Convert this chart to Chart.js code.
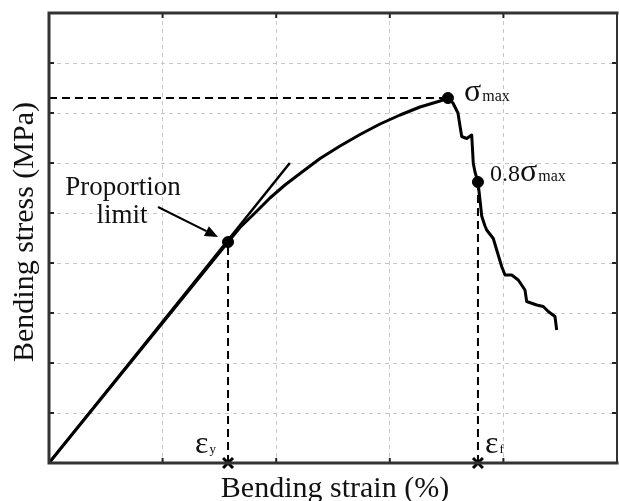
<!DOCTYPE html>
<html>
<head>
<meta charset="utf-8">
<script src="https://cdn.jsdelivr.net/npm/chart.js@4/dist/chart.umd.min.js"></script>
<style>
  html, body { margin: 0; padding: 0; background: #fff; }
  #wrap { width: 619px; height: 501px; }
</style>
</head>
<body>
<div id="wrap"><canvas id="c" width="619" height="501"></canvas></div>
<script>
// ---- data (strain units = grid divisions, stress units = grid divisions) ----
const strain = [0, 1.576, 1.681, 1.813, 1.945, 2.077, 2.210, 2.386, 2.562, 2.738, 2.914, 3.090, 3.266, 3.442, 3.512,
  3.556, 3.600, 3.618, 3.633, 3.677, 3.721, 3.735, 3.750, 3.776, 3.794, 3.809, 3.838, 3.853, 3.911, 3.941,
  3.985, 4.014, 4.073, 4.131, 4.190, 4.205, 4.293, 4.351, 4.395, 4.454, 4.469];
const stress = [0, 4.42, 4.71, 5.00, 5.30, 5.56, 5.79, 6.09, 6.34, 6.57, 6.78, 6.96, 7.12, 7.24, 7.30,
  7.20, 7.00, 6.74, 6.53, 6.49, 6.56, 5.99, 5.82, 5.62, 5.26, 4.94, 4.74, 4.66, 4.49, 4.26,
  3.93, 3.76, 3.76, 3.66, 3.46, 3.23, 3.16, 3.13, 3.03, 2.93, 2.66];
const tangentX = [0, 2.12];
const tangentY = [0, 6.00];
const propLimit = [1.576, 4.42];   // proportion limit (eps_y, stress)
const peak = [3.512, 7.30];        // sigma max
const failure = [3.776, 5.62];     // 0.8 sigma max (eps_f)
const xTicks = [0, 1, 2, 3, 4, 5];
const yTicks = [0, 1, 2, 3, 4, 5, 6, 7, 8, 9];
const xTitle = 'Bending strain (%)';
const yTitle = 'Bending stress (MPa)';

const pts = (xs, ys) => xs.map((x, i) => ({ x: x, y: ys[i] }));
const SERIF = '"Liberation Serif", "Times New Roman", serif';

const decor = {
  id: 'decor',
  beforeDraw(chart) {
    const ctx = chart.ctx;
    ctx.save();
    ctx.fillStyle = '#fff';
    ctx.fillRect(0, 0, chart.width, chart.height);
    ctx.restore();
  },
  afterDraw(chart) {
    const ctx = chart.ctx;
    const xs = chart.scales.x, ys = chart.scales.y;
    const a = chart.chartArea;
    ctx.save();
    // inner ticks
    ctx.strokeStyle = '#222';
    ctx.lineWidth = 2;
    yTicks.slice(1, -1).forEach(v => {
      const p = ys.getPixelForValue(v);
      ctx.beginPath(); ctx.moveTo(a.left, p); ctx.lineTo(a.left + 5, p); ctx.stroke();
      ctx.beginPath(); ctx.moveTo(a.right, p); ctx.lineTo(a.right - 5, p); ctx.stroke();
    });
    xTicks.slice(1, -1).forEach(v => {
      const p = xs.getPixelForValue(v);
      ctx.beginPath(); ctx.moveTo(p, a.bottom); ctx.lineTo(p, a.bottom - 5); ctx.stroke();
      ctx.beginPath(); ctx.moveTo(p, a.top); ctx.lineTo(p, a.top + 5); ctx.stroke();
    });
    // frame
    ctx.strokeStyle = '#333';
    ctx.lineCap = 'square';
    ctx.lineWidth = 3;
    ctx.beginPath();
    ctx.moveTo(a.right, a.top); ctx.lineTo(a.left, a.top); ctx.lineTo(a.left, a.bottom); ctx.lineTo(a.right, a.bottom);
    ctx.stroke();
    ctx.lineWidth = 2;
    ctx.beginPath(); ctx.moveTo(a.right, a.top); ctx.lineTo(a.right, a.bottom); ctx.stroke();

    // arrow to proportion limit
    const plx = xs.getPixelForValue(propLimit[0]), ply = ys.getPixelForValue(propLimit[1]);
    const tipX = plx - 10, tipY = ply - 5, sX = plx - 70, sY = ply - 35;
    const ang = Math.atan2(tipY - sY, tipX - sX);
    ctx.strokeStyle = '#000'; ctx.fillStyle = '#000'; ctx.lineWidth = 2; ctx.lineCap = 'butt';
    const bx = tipX - 13 * Math.cos(ang), by = tipY - 13 * Math.sin(ang);
    ctx.beginPath(); ctx.moveTo(sX, sY); ctx.lineTo(bx, by); ctx.stroke();
    ctx.beginPath();
    ctx.moveTo(tipX, tipY);
    ctx.lineTo(bx + 5.5 * Math.sin(ang), by - 5.5 * Math.cos(ang));
    ctx.lineTo(bx - 5.5 * Math.sin(ang), by + 5.5 * Math.cos(ang));
    ctx.closePath(); ctx.fill();

    // texts
    ctx.fillStyle = '#111';
    ctx.textBaseline = 'alphabetic';
    ctx.textAlign = 'center';
    ctx.font = '27px ' + SERIF;
    ctx.fillText('Proportion', plx - 105, ply - 47);
    ctx.fillText('limit', plx - 106, ply - 19);

    ctx.textAlign = 'left';
    const sub = (main, mainFont, subTxt, subFont, x, y) => {
      ctx.font = mainFont; ctx.fillText(main, x, y);
      const w = ctx.measureText(main).width;
      ctx.font = subFont; ctx.fillText(subTxt, x + w + 1, y);
    };
    const pkx = xs.getPixelForValue(peak[0]), pky = ys.getPixelForValue(peak[1]);
    sub('σ', '32px ' + SERIF, 'max', '16px ' + SERIF, pkx + 16, pky + 3);
    const fx = xs.getPixelForValue(failure[0]), fy = ys.getPixelForValue(failure[1]);
    ctx.font = '24px ' + SERIF;
    ctx.fillText('0.8', fx + 12, fy - 1);
    const w08 = ctx.measureText('0.8').width;
    sub('σ', '32px ' + SERIF, 'max', '16px ' + SERIF, fx + 12 + w08, fy - 1);

    const y0 = ys.getPixelForValue(0);
    sub('ε', '32px ' + SERIF, 'y', '13px ' + SERIF, plx - 33, y0 - 10);
    sub('ε', '32px ' + SERIF, 'f', '13px ' + SERIF, fx + 7, y0 - 10);

    // axis titles
    ctx.fillStyle = '#111';
    ctx.font = '30px ' + SERIF;
    ctx.textAlign = 'center';
    ctx.fillText(xTitle, (a.left + a.right) / 2 + 2, 497);
    ctx.save();
    ctx.translate(33, (a.top + a.bottom) / 2 - 6);
    ctx.rotate(-Math.PI / 2);
    ctx.fillText(yTitle, 0, 0);
    ctx.restore();
    ctx.restore();
  }
};

const dashed = { borderColor: '#000', borderWidth: 2, borderDash: [8, 5], pointRadius: 0, showLine: true, fill: false };

new Chart(document.getElementById('c'), {
  type: 'scatter',
  data: {
    datasets: [
      Object.assign({ label: 'sigma-max level', data: [{ x: 0, y: peak[1] }, { x: peak[0], y: peak[1] }] }, dashed),
      Object.assign({ label: 'eps-y', data: [{ x: propLimit[0], y: 0 }, { x: propLimit[0], y: propLimit[1] }] }, dashed),
      Object.assign({ label: 'eps-f', data: [{ x: failure[0], y: 0 }, { x: failure[0], y: failure[1] }] }, dashed),
      { label: 'tangent', data: pts(tangentX, tangentY), showLine: true, borderColor: '#000', borderWidth: 2.5, pointRadius: 0 },
      { label: 'curve', data: pts(strain, stress), showLine: true, borderColor: '#000', borderWidth: 3, pointRadius: 0, borderJoinStyle: 'round' },
      { label: 'key points', data: [{ x: propLimit[0], y: propLimit[1] }, { x: peak[0], y: peak[1] }, { x: failure[0], y: failure[1] }],
        pointRadius: 5.5, backgroundColor: '#000', borderColor: '#000', showLine: false },
      { label: 'strain marks', data: [{ x: propLimit[0], y: 0 }, { x: failure[0], y: 0 }],
        pointStyle: 'crossRot', pointRadius: 7, borderWidth: 3, borderColor: '#000', showLine: false, clip: false }
    ]
  },
  options: {
    responsive: false,
    animation: false,
    devicePixelRatio: 1,
    layout: { autoPadding: false, padding: { left: 49, top: 13, right: 2, bottom: 38 } },
    plugins: { legend: { display: false }, tooltip: { enabled: false } },
    scales: {
      x: {
        type: 'linear', min: xTicks[0], max: xTicks[xTicks.length - 1],
        afterBuildTicks: s => { s.ticks = xTicks.map(v => ({ value: v })); },
        ticks: { display: false },
        grid: { color: '#c8c8c8', lineWidth: 1, drawTicks: false },
        border: { display: false, dash: [4, 4] }
      },
      y: {
        type: 'linear', min: yTicks[0], max: yTicks[yTicks.length - 1],
        afterBuildTicks: s => { s.ticks = yTicks.map(v => ({ value: v })); },
        ticks: { display: false },
        grid: { color: '#c8c8c8', lineWidth: 1, drawTicks: false },
        border: { display: false, dash: [4, 4] }
      }
    }
  },
  plugins: [decor]
});
</script>
</body>
</html>
